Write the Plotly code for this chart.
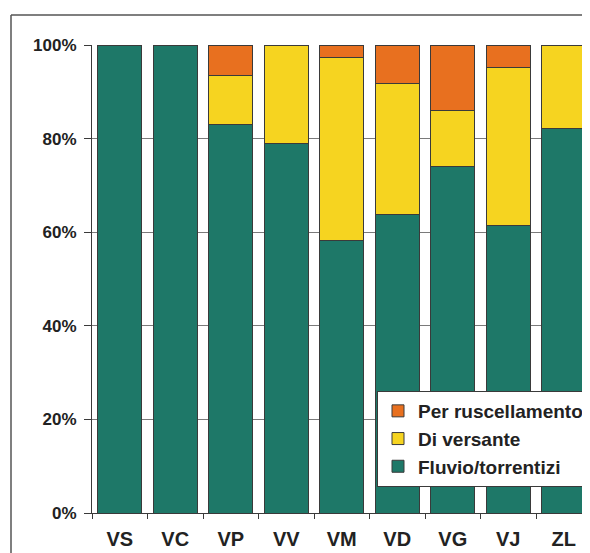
import plotly.graph_objects as go

categories = ["VS", "VC", "VP", "VV", "VM", "VD", "VG", "VJ", "ZL"]
fluvio = [100, 100, 83.1, 79.0, 58.2, 63.8, 74.0, 61.5, 82.1]
versante = [None, None, 10.4, 21.0, 39.1, 27.9, 11.9, 33.7, 17.9]
ruscell = [None, None, 6.5, None, 2.7, 8.3, 14.1, 4.8, None]
y_ticks = [0, 20, 40, 60, 80, 100]
y_tick_labels = ["0%", "20%", "40%", "60%", "80%", "100%"]

GREEN = "#1e7868"
YELLOW = "#f6d420"
ORANGE = "#e8701f"
EDGE = "#3a3a3a"
TXT = "#222222"
FONT = "Liberation Sans, Arial, sans-serif"

fig = go.Figure()
for name, vals, col, rank in [
    ("Fluvio/torrentizi", fluvio, GREEN, 3),
    ("Di versante", versante, YELLOW, 2),
    ("Per ruscellamento", ruscell, ORANGE, 1),
]:
    fig.add_trace(go.Bar(
        x=categories, y=vals, name=name, legendrank=rank,
        marker=dict(color=col, line=dict(color=EDGE, width=1)),
    ))

# page body has an 8px margin; work in window pixels and convert
OFF = 8
W, H = 590 - OFF, 553 - OFF
L = 92 - OFF
T = 45 - OFF
B = H - (513 - OFF)
R = 0
pw = W - L - R
ph = H - T - B
cat_px = 55.5
x_end = -0.5 + pw / cat_px

def px_x(x):
    return (x - OFF - L) / pw

def px_y(y):
    return (H - B - (y - OFF)) / ph

fig.update_layout(
    width=W, height=H,
    margin=dict(l=L, r=R, t=T, b=B, autoexpand=False),
    barmode="stack",
    bargap=0.2,
    paper_bgcolor="white",
    plot_bgcolor="white",
    showlegend=True,
    legend=dict(
        x=px_x(377), y=px_y(391), xanchor="left", yanchor="top",
        bgcolor="white", bordercolor=EDGE, borderwidth=1,
        traceorder="normal",
        font=dict(family=FONT, size=19, color=TXT, weight="bold"),
        itemwidth=30,
    ),
    xaxis=dict(
        range=[-0.5, x_end],
        showline=True, linecolor=EDGE, linewidth=1,
        ticks="outside", tickson="boundaries", ticklen=5, tickcolor=EDGE,
        tickfont=dict(family=FONT, size=20, color=TXT, weight="bold"),
        ticklabelstandoff=8,
        showgrid=False, fixedrange=True,
    ),
    yaxis=dict(
        range=[0, 100],
        tickvals=y_ticks, ticktext=y_tick_labels,
        showline=True, linecolor=EDGE, linewidth=1,
        ticks="outside", ticklen=7, tickcolor=EDGE,
        ticklabelstandoff=4,
        tickfont=dict(family=FONT, size=17, color=TXT, weight="bold"),
        showgrid=True, gridcolor="#7a7a7a", gridwidth=1,
        zeroline=False, fixedrange=True,
    ),
    shapes=[
        dict(type="line", xref="paper", yref="paper",
             x0=px_x(11), x1=px_x(11), y0=-0.3, y1=px_y(15),
             line=dict(color="#555555", width=1.5), layer="below"),
        dict(type="line", xref="paper", yref="paper",
             x0=px_x(11), x1=1.2, y0=px_y(15), y1=px_y(15),
             line=dict(color="#555555", width=1.5), layer="below"),
    ],
)

fig.write_html("out.html")
